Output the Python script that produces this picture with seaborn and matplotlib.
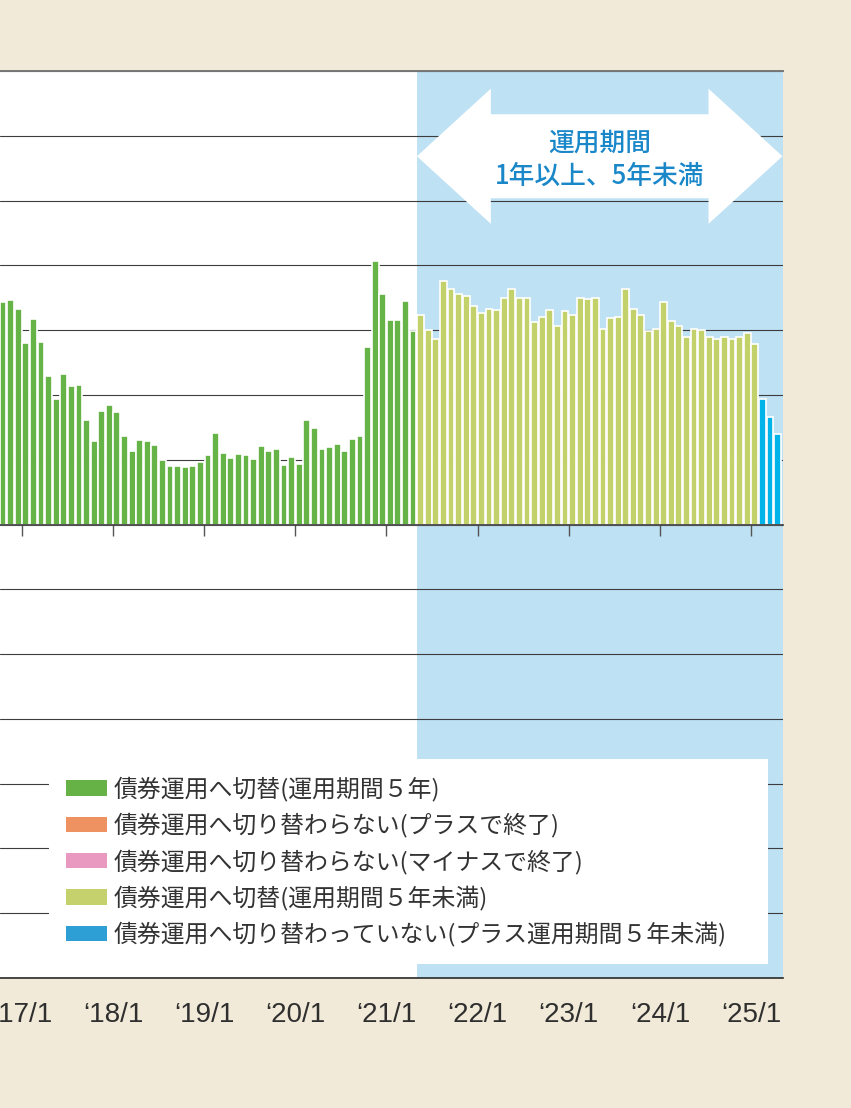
import numpy as np
import pandas as pd
import matplotlib
matplotlib.use("Agg")
import matplotlib.pyplot as plt
from matplotlib.patches import Patch, Polygon
import matplotlib.transforms as mtransforms
import seaborn as sns

# ---------------- data ----------------
months = [d.strftime("%Y-%m") for d in pd.date_range("2016-10-01", "2025-04-01", freq="MS")]

green_5y = [34.4, 34.7, 33.2, 28.0, 31.7, 28.1, 22.9, 19.4, 23.3, 21.4, 21.6,
            16.2, 12.9, 17.5, 18.4, 17.3, 13.6, 11.4, 13.1, 12.9, 12.2,
            10.0, 9.1, 9.1, 8.8, 9.0, 9.7, 10.8, 14.1, 11.0, 10.2,
            10.9, 10.7, 10.1, 12.1, 11.4, 11.7, 9.2, 10.4, 9.4, 16.2,
            14.9, 11.6, 11.9, 12.5, 11.3, 13.2, 13.6, 27.4, 40.6, 35.6,
            31.5, 31.6, 34.5, 29.8]
lightgreen_lt5y = [32.3, 30.0, 28.7, 37.6, 36.3, 35.6, 35.2, 33.8, 32.7, 33.2,
                   33.1, 35.0, 36.3, 35.0, 35.0, 31.3, 32.1, 33.1, 30.6, 33.0,
                   32.4, 35.0, 34.8, 35.0, 30.2, 31.8, 32.0, 36.3, 33.2, 32.3,
                   29.9, 30.1, 34.3, 31.4, 30.6, 28.9, 30.2, 30.0, 28.9, 28.7,
                   28.9, 28.7, 29.0, 29.5, 27.9]
blue_not_switched = [19.3, 16.6, 13.9]

series_names = [
    "債券運用へ切替(運用期間５年)",
    "債券運用へ切り替わらない(プラスで終了)",
    "債券運用へ切り替わらない(マイナスで終了)",
    "債券運用へ切替(運用期間５年未満)",
    "債券運用へ切り替わっていない(プラス運用期間５年未満)",
]
legend_colors = ["#67B247", "#EE9261", "#E999BF", "#C4D16C", "#2E9FD4"]
bar_colors = {series_names[0]: "#66B348", series_names[1]: "#EE9261",
              series_names[2]: "#E999BF", series_names[3]: "#C3D16B",
              series_names[4]: "#00B4EA"}

tick_labels = ["‘17/1", "‘18/1", "‘19/1", "‘20/1", "‘21/1", "‘22/1", "‘23/1", "‘24/1", "‘25/1"]
tick_months = ["2017-01", "2018-01", "2019-01", "2020-01", "2021-01",
               "2022-01", "2023-01", "2024-01", "2025-01"]
annot_text = "運用期間\n1年以上、5年未満"

values = green_5y + lightgreen_lt5y + blue_not_switched
series = ([series_names[0]] * len(green_5y) + [series_names[3]] * len(lightgreen_lt5y)
          + [series_names[4]] * len(blue_not_switched))
df = pd.DataFrame({"month": months, "value": values, "series": series})

# ---------------- style ----------------
sns.set_style("white")
plt.rcParams["font.family"] = ["Noto Sans CJK JP", "DejaVu Sans"]

BG = "#F2EAD8"
W, H = 851, 1108
fig = plt.figure(figsize=(W / 100, H / 100), dpi=100, facecolor=BG)
ax_left, ax_right, ax_top, ax_bot = 0, 782.5, 71, 978
ax = fig.add_axes([ax_left / W, 1 - ax_bot / H, (ax_right - ax_left) / W, (ax_bot - ax_top) / H])
ax.set_facecolor("white")

sns.barplot(data=df, x="month", y="value", hue="series", hue_order=series_names,
            palette=bar_colors, dodge=False, width=0.9, saturation=1,
            edgecolor="white", linewidth=1.2, legend=False, ax=ax, zorder=1)

px_per_month = 7.594
first_center_px = 3.0
x_lo = (ax_left - first_center_px) / px_per_month
x_hi = (ax_right - first_center_px) / px_per_month
ax.set_xlim(x_lo, x_hi)
ax.set_ylim(-70, 70)

# shaded region (start of 5-year-less period)
span_start = len(green_5y) - 0.5
ax.axvspan(span_start, x_hi, color="#BEE1F4", zorder=0.1, lw=0)

# grid
ax.set_axisbelow(True)
ax.set_yticks(np.arange(-70, 71, 10))
ax.tick_params(axis="y", length=0, labelleft=False)
ax.grid(axis="y", color="#3d3d3d", lw=0.8, zorder=0.5)
ax.grid(axis="x", visible=False)

for s in ["left", "right"]:
    ax.spines[s].set_visible(False)
ax.spines["top"].set_color("#777777")
ax.spines["top"].set_linewidth(1.4)
ax.spines["bottom"].set_color("#2a2a2a")
ax.spines["bottom"].set_linewidth(1.2)

# x ticks (labels at bottom, tick marks at baseline)
tick_pos = [months.index(m) - 0.5 for m in tick_months]
ax.set_xticks(tick_pos, labels=tick_labels)
ax.tick_params(axis="x", length=0, pad=17, labelsize=20, labelcolor="#2f2f2f")
for lab in ax.get_xticklabels():
    lab.set_fontfamily(["Liberation Sans", "DejaVu Sans"])
ax.set_xlabel("")
ax.set_ylabel("")

sec = ax.secondary_xaxis(0, transform=ax.transData)
sec.set_xticks(tick_pos)
sec.tick_params(axis="x", direction="out", length=8, width=1, color="#555555", labelbottom=False)
sec.spines["bottom"].set_color("#333333")
sec.spines["bottom"].set_linewidth(1.2)
sec.set_zorder(3)

# double-headed arrow annotation over shaded region
trans = mtransforms.blended_transform_factory(ax.transData, ax.transAxes)
L, R = span_start, x_hi
head = 0.2023 * (R - L)
yc, hh, sh = 0.906, 0.0745, 0.0463
arrow_pts = [(L, yc), (L + head, yc + hh), (L + head, yc + sh), (R - head, yc + sh),
             (R - head, yc + hh), (R, yc), (R - head, yc - hh), (R - head, yc - sh),
             (L + head, yc - sh), (L + head, yc - hh)]
ax.add_patch(Polygon(arrow_pts, closed=True, transform=trans, facecolor="white",
                     edgecolor="none", zorder=2, clip_on=False))
ax.text((L + R) / 2, yc - 0.004, annot_text, transform=trans, ha="center", va="center",
        fontsize=18.5, color="#1A87C9", fontweight="medium", linespacing=1.28, zorder=4)

# legend
handles = [Patch(facecolor=c, edgecolor="none") for c in legend_colors]
leg = ax.legend(handles, series_names, loc="lower left",
                bbox_to_anchor=(49 / ax_right, (ax_bot - 964) / (ax_bot - ax_top),
                                (768 - 49) / ax_right, 0.2),
                mode="expand", ncols=1, fontsize=17.2, frameon=True, fancybox=False,
                framealpha=1, facecolor="white", edgecolor="none", borderpad=0.72,
                labelspacing=0.48, handlelength=1.7, handleheight=0.6, handletextpad=0.3,
                borderaxespad=0)
for t in leg.get_texts():
    t.set_color("#333333")
leg.set_zorder(5)

fig.savefig("out.png", dpi=100, facecolor=BG)
